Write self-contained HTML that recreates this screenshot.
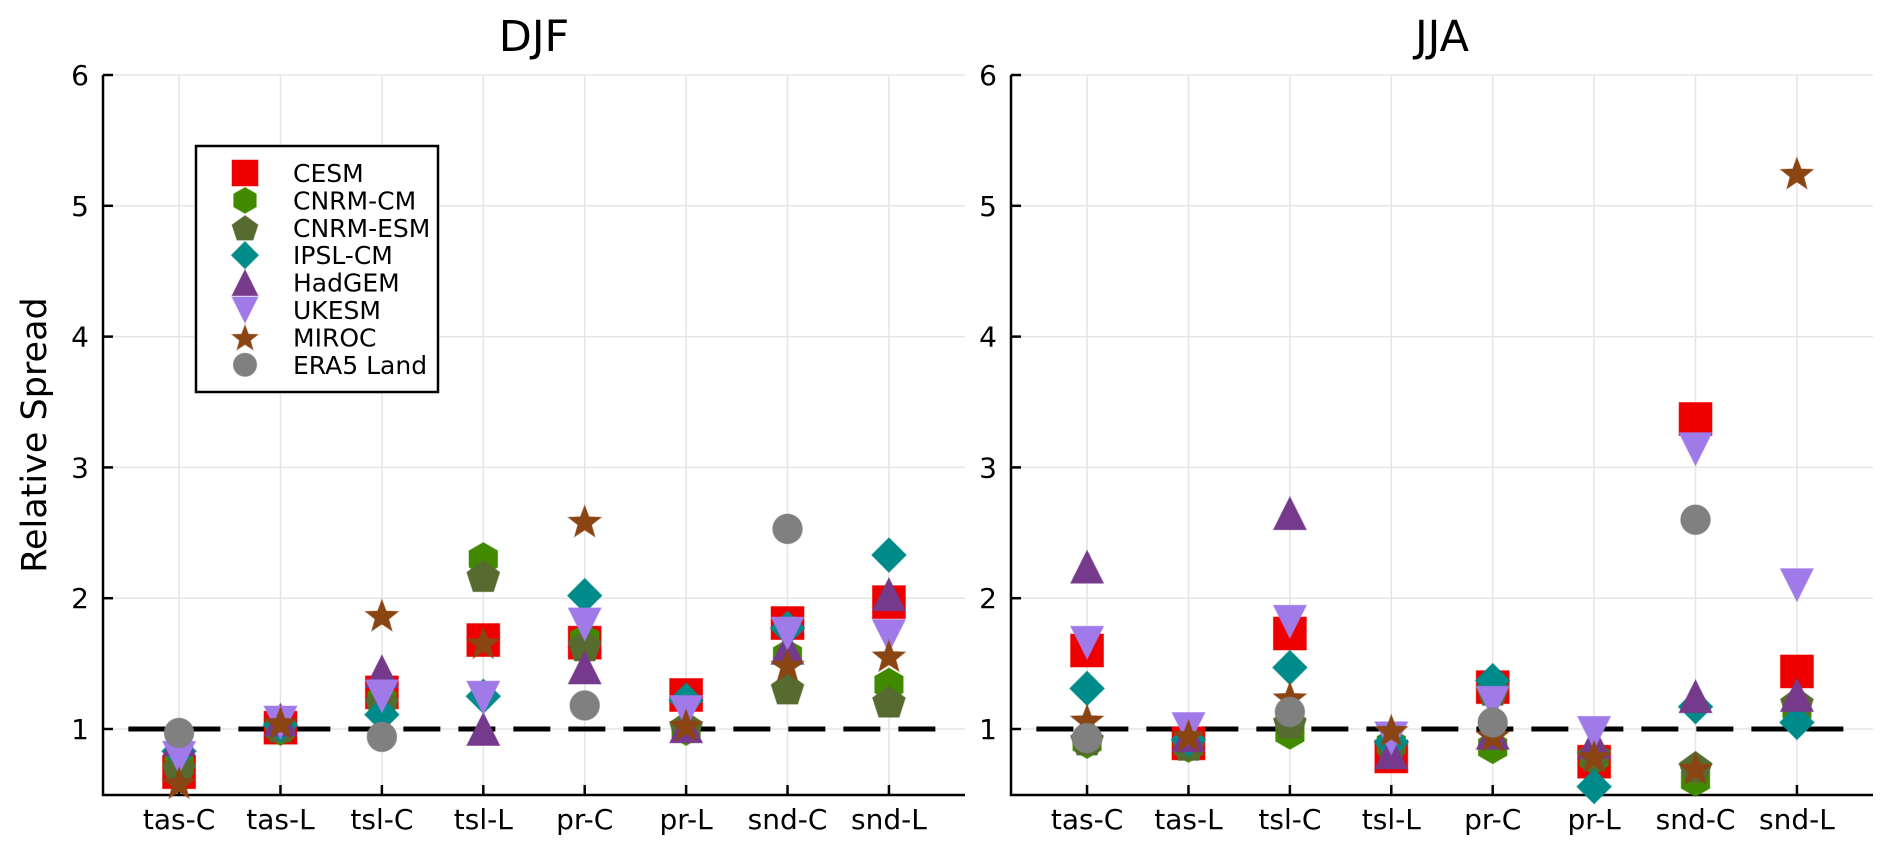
<!DOCTYPE html>
<html><head><meta charset="utf-8"><style>
html,body{margin:0;padding:0;background:#fff;}
svg{display:block;font-family:"DejaVu Sans","Liberation Sans",sans-serif;}
</style></head><body>
<svg id="chart" width="1892" height="852" viewBox="0 0 1892 852" xmlns="http://www.w3.org/2000/svg">
<rect width="1892" height="852" fill="#fff"/>
<text x="0" y="0" transform="translate(46,435) rotate(-90)" text-anchor="middle" font-size="35" fill="#000">Relative Spread</text>
<g id="panels"></g>
<g id="legend"></g>
</svg>
<script>
const categories = ["tas-C","tas-L","tsl-C","tsl-L","pr-C","pr-L","snd-C","snd-L"];
const models = ["CESM","CNRM-CM","CNRM-ESM","IPSL-CM","HadGEM","UKESM","MIROC","ERA5 Land"];
const yTicks = [1,2,3,4,5,6];
const djfCESM  = [0.67,1.01,1.28,1.68,1.66,1.26,1.81,1.97];
const djfCNRMCM= [0.72,1.00,1.22,2.30,1.68,1.00,1.56,1.34];
const djfCNRMESM=[0.70,1.02,1.20,2.17,1.64,1.02,1.31,1.21];
const djfIPSL  = [0.83,1.03,1.11,1.25,2.02,1.22,1.77,2.33];
const djfHadGEM= [0.92,1.07,1.44,1.00,1.47,1.02,1.62,2.03];
const djfUKESM = [0.78,1.05,1.25,1.24,1.80,1.13,1.73,1.71];
const djfMIROC = [0.59,1.05,1.87,1.66,2.59,1.03,1.49,1.56];
const djfERA5  = [0.97,null,0.94,null,1.18,null,2.53,null];
const jjaCESM  = [1.60,0.89,1.73,0.79,1.32,0.75,3.37,1.44];
const jjaCNRMCM= [0.90,0.87,0.97,0.88,0.86,0.78,0.61,1.15];
const jjaCNRMESM=[0.92,0.88,1.05,0.88,1.30,0.80,0.71,1.20];
const jjaIPSL  = [1.31,0.92,1.47,0.90,1.37,0.56,1.17,1.05];
const jjaHadGEM= [2.24,0.95,2.65,0.82,0.97,0.90,1.25,1.26];
const jjaUKESM = [1.66,1.00,1.82,0.93,1.20,0.97,3.14,2.10];
const jjaMIROC = [1.07,0.95,1.24,0.99,0.95,0.79,0.70,5.25];
const jjaERA5  = [0.93,null,1.13,null,1.05,null,2.60,null];
const djfSeries=[djfCESM,djfCNRMCM,djfCNRMESM,djfIPSL,djfHadGEM,djfUKESM,djfMIROC,djfERA5];
const jjaSeries=[jjaCESM,jjaCNRMCM,jjaCNRMESM,jjaIPSL,jjaHadGEM,jjaUKESM,jjaMIROC,jjaERA5];
const colors=["#ee0000","#418a00","#556b2f","#008b8b","#763a8c","#9f7ae8","#8b4513","#808080"];
const shapes=["square","hexagon","pentagon","diamond","utri","dtri","star","circle"];
const NS="http://www.w3.org/2000/svg";
function mk(tag,attrs,parent){const e=document.createElementNS(NS,tag);for(const k in attrs)e.setAttribute(k,attrs[k]);parent.appendChild(e);return e;}
function poly(pts){return pts.map(p=>p[0].toFixed(1)+","+p[1].toFixed(1)).join(" ");}
function marker(shape,cx,cy,s,color,parent){
  let e;
  if(shape==="square") e=mk("rect",{x:cx-s,y:cy-s,width:2*s,height:2*s},parent);
  else if(shape==="circle") e=mk("circle",{cx:cx,cy:cy,r:s*0.9},parent);
  else if(shape==="diamond") e=mk("polygon",{points:poly([[cx,cy-s*1.05],[cx+s*1.05,cy],[cx,cy+s*1.05],[cx-s*1.05,cy]])},parent);
  else if(shape==="utri") e=mk("polygon",{points:poly([[cx,cy-s],[cx+s,cy+s],[cx-s,cy+s]])},parent);
  else if(shape==="dtri") e=mk("polygon",{points:poly([[cx,cy+s],[cx+s,cy-s],[cx-s,cy-s]])},parent);
  else if(shape==="hexagon"){const p=[];for(let k=0;k<6;k++){const a=Math.PI/2+k*Math.PI/3;p.push([cx+s*Math.cos(a),cy-s*Math.sin(a)]);}e=mk("polygon",{points:poly(p)},parent);}
  else if(shape==="pentagon"){const p=[];const r=s*1.05;for(let k=0;k<5;k++){const a=Math.PI/2+k*2*Math.PI/5;p.push([cx+r*Math.cos(a),cy+s*0.1-r*Math.sin(a)]);}e=mk("polygon",{points:poly(p)},parent);}
  else if(shape==="star"){const p=[];const R=s*1.05,r=R*0.42;for(let k=0;k<10;k++){const a=Math.PI/2+k*Math.PI/5;const rr=k%2?r:R;p.push([cx+rr*Math.cos(a),cy+s*0.1-rr*Math.sin(a)]);}e=mk("polygon",{points:poly(p)},parent);}
  e.setAttribute("fill",color);
  e.setAttribute("stroke",color);
  e.setAttribute("stroke-opacity","0.5");
  e.setAttribute("stroke-width","1");
  return e;
}
const panelsG=document.getElementById("panels");
function drawPanel(left,title,series,key){
  const right=left+862, top=75, bottom=795;
  const xs=i=>left+((i+1)-0.25)*(862/8.5);
  const ys=v=>729-(v-1)*130.8;
  const g=mk("g",{},panelsG);
  
  
  categories.forEach((c,i)=>{const l=mk("line",{x1:xs(i),x2:xs(i),y1:top,y2:bottom,stroke:"#e5e5e5","stroke-width":1.5},g);
    });
  yTicks.forEach(v=>{const l=mk("line",{x1:left,x2:right,y1:ys(v),y2:ys(v),stroke:"#e5e5e5","stroke-width":1.5},g);
    });
  const ax=mk("path",{d:`M${left},${top}V${bottom}H${right}`,fill:"none",stroke:"#000","stroke-width":2.5},g);
  
  yTicks.forEach(v=>{mk("line",{x1:left,x2:left+10,y1:ys(v),y2:ys(v),stroke:"#000","stroke-width":2.5},g);
    const t=mk("text",{x:left-14,y:ys(v)+10,"text-anchor":"end","font-size":28,fill:"#000"},g);t.textContent=v;
    });
  categories.forEach((c,i)=>{mk("line",{x1:xs(i),x2:xs(i),y1:bottom,y2:bottom-10,stroke:"#000","stroke-width":2.5},g);
    const t=mk("text",{x:xs(i),y:829,"text-anchor":"middle","font-size":28,fill:"#000"},g);t.textContent=c;
    });
  const tt=mk("text",{x:(left+right)/2,y:51,"text-anchor":"middle","font-size":43,fill:"#000"},g);tt.textContent=title;
  
  const ref=mk("line",{x1:xs(0)-862/8.5/2,x2:xs(7)+862/8.5/2,y1:ys(1),y2:ys(1),stroke:"#000","stroke-width":5,"stroke-dasharray":"37 18"},g);
  
  series.forEach((vals,m)=>{
    vals.forEach((v,i)=>{
      if(v===null) return;
      const e=marker(shapes[m],xs(i),ys(v),16.5,colors[m],g);
      
      
    });
  });
}
drawPanel(103,"DJF",djfSeries,"djf");
drawPanel(1011,"JJA",jjaSeries,"jja");
const lg=document.getElementById("legend");
const box=mk("rect",{x:196,y:146,width:242,height:246,fill:"#fff",stroke:"#000","stroke-width":2.5},lg);

models.forEach((m,k)=>{
  const y=173+k*27.4;
  const e=marker(shapes[k],245,y,13,colors[k],lg);
  
  
  const t=mk("text",{x:293,y:y+9,"font-size":25,fill:"#000"},lg);t.textContent=m;
  
  
});
</script>
</body></html>
